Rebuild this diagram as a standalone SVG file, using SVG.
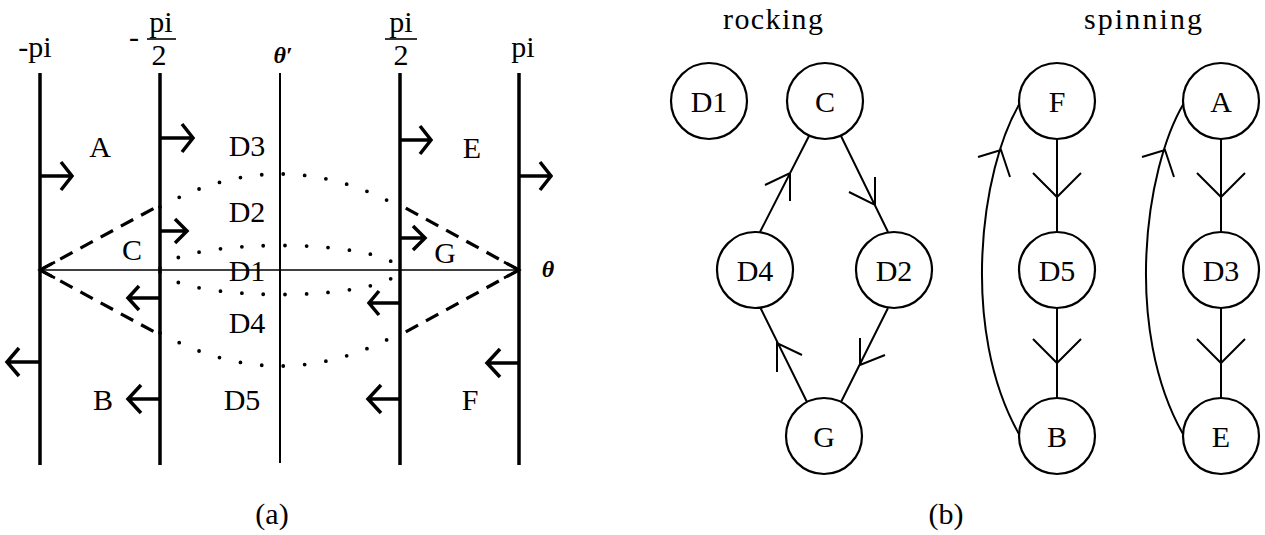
<svg xmlns="http://www.w3.org/2000/svg" width="1265" height="535" viewBox="0 0 1265 535" font-family="'Liberation Serif', 'DejaVu Serif', serif">
<style>
text{font-family:'Liberation Serif','DejaVu Serif',serif;font-size:30px;fill:#000;text-anchor:middle}
.thick{stroke:#000;stroke-width:3.5;fill:none}
.thin{stroke:#000;stroke-width:2;fill:none}
.axis{stroke:#000;stroke-width:1.6;fill:none}
.stub{stroke:#000;stroke-width:3.5;fill:none;stroke-linejoin:miter}
.dash{stroke:#000;stroke-width:3.2;fill:none;stroke-dasharray:14 9}
.dot{stroke:#000;stroke-width:3.8;fill:none;stroke-dasharray:0 21.5;stroke-linecap:round}
.node circle{fill:#fff;stroke:#000;stroke-width:2.2}
.edge{stroke:#000;stroke-width:2;fill:none}
.bar{stroke:#000;stroke-width:1.6}
.th{font-style:italic;font-weight:bold;font-size:24px}
</style>
<g id="panel-a">
  <g id="verticals">
    <line class="thick" x1="40" y1="73" x2="40" y2="465"/>
    <line class="thick" x1="160" y1="73" x2="160" y2="465"/>
    <line class="thin" x1="280" y1="73" x2="280" y2="463"/>
    <line class="thick" x1="400" y1="73" x2="400" y2="465"/>
    <line class="thick" x1="519" y1="73" x2="519" y2="465"/>
  </g>
  <g id="axis">
    <line class="axis" x1="40" y1="270" x2="519" y2="270"/>
    <path class="stub" style="stroke-width:2.6" d="M55,262 L40,270 L55,278"/>
    <path class="stub" style="stroke-width:2.6" d="M504,262 L519,270 L504,278"/>
  </g>
  <g id="dashed">
    <line class="dash" x1="40" y1="270" x2="160" y2="205"/>
    <line class="dash" x1="40" y1="270" x2="160" y2="335"/>
    <line class="dash" x1="519" y1="270" x2="400" y2="205"/>
    <line class="dash" x1="519" y1="270" x2="400" y2="335"/>
  </g>
  <g id="dotted">
    <path class="dot" d="M160,207 Q280,141 400,207"/>
    <path class="dot" d="M160,268 C185,238 375,238 400,268"/>
    <path class="dot" d="M160,272 C185,302 375,302 400,272"/>
    <path class="dot" d="M160,333 Q280,399 400,333"/>
  </g>
  <g id="flow-arrows">
    <path class="stub" d="M40,176 H72 M61,162 L72,176 L61,190"/>
    <path class="stub" d="M160,138 H193 M182,124 L193,138 L182,152"/>
    <path class="stub" d="M400,140 H431 M420,126 L431,140 L420,154"/>
    <path class="stub" d="M519,176 H551 M540,162 L551,176 L540,190"/>
    <path class="stub" d="M160,231 H187 M175,219 L187,231 L175,243"/>
    <path class="stub" d="M400,238 H425 M413,226 L425,238 L413,250"/>
    <path class="stub" d="M160,298 H128 M139,286 L128,298 L139,310"/>
    <path class="stub" d="M400,303 H369 M379,291 L369,303 L379,315"/>
    <path class="stub" d="M40,362 H7 M19,348 L7,362 L19,376"/>
    <path class="stub" d="M519,363 H487 M500,349 L487,363 L500,377"/>
    <path class="stub" d="M160,399 H128 M141,385 L128,399 L141,413"/>
    <path class="stub" d="M400,399 H368 M381,385 L368,399 L381,413"/>
  </g>
  <g id="axis-labels">
    <text x="35" y="57">-pi</text>
    <text x="134" y="47">-</text>
    <text x="161" y="32">pi</text>
    <line class="bar" x1="147" y1="39" x2="176" y2="39"/>
    <text x="159" y="65">2</text>
    <text class="th" x="283" y="63">θ′</text>
    <text x="401" y="32">pi</text>
    <line class="bar" x1="385" y1="39" x2="417" y2="39"/>
    <text x="401" y="65">2</text>
    <text x="523" y="57">pi</text>
    <text class="th" x="548" y="277">θ</text>
  </g>
  <g id="region-labels">
    <text x="100" y="157">A</text>
    <text x="247" y="156">D3</text>
    <text x="472" y="158">E</text>
    <text x="247" y="222">D2</text>
    <text x="132" y="260">C</text>
    <text x="247" y="281">D1</text>
    <text x="445" y="263">G</text>
    <text x="247" y="333">D4</text>
    <text x="103" y="410">B</text>
    <text x="242" y="410">D5</text>
    <text x="470" y="410">F</text>
  </g>
  <text x="272" y="524">(a)</text>
</g>
<g id="panel-b">
  <text x="773" y="29" textLength="100">rocking</text>
  <text x="1143" y="29" textLength="118">spinning</text>
  <g id="connectors">
    <path class="edge" d="M841,136 L888,232 M875,177 L875,205 L849,192"/>
    <path class="edge" d="M760,232 L809,136 M765,185 L790,173 L790,201"/>
    <path class="edge" d="M807,402 L760,307 M777,372 L777,343 L802,355"/>
    <path class="edge" d="M888,308 L841,402 M860,338 L860,365 L885,355"/>
    <path class="edge" d="M1057,139 L1057,232 M1033,173 L1057,197 L1081,173"/>
    <path class="edge" d="M1057,308 L1057,398 M1033,339 L1057,363 L1081,339"/>
    <path class="edge" d="M1221,139 L1221,232 M1197,173 L1221,197 L1245,173"/>
    <path class="edge" d="M1221,308 L1221,398 M1197,339 L1221,363 L1245,339"/>
    <path class="edge" d="M1019,434 C960,330 980,170 1020,103 M978,157 L1001,150 L1010,177"/>
    <path class="edge" d="M1183,434 C1124,330 1144,170 1184,103 M1142,157 L1165,150 L1174,177"/>
  </g>
  <g id="node-D1" class="node"><circle cx="709" cy="101" r="38"/><text x="709" y="112">D1</text></g>
  <g id="node-C" class="node"><circle cx="825" cy="101" r="38"/><text x="825" y="112">C</text></g>
  <g id="node-D4" class="node"><circle cx="755" cy="270" r="38"/><text x="755" y="281">D4</text></g>
  <g id="node-D2" class="node"><circle cx="894" cy="270" r="38"/><text x="894" y="281">D2</text></g>
  <g id="node-G" class="node"><circle cx="824" cy="436" r="38"/><text x="824" y="447">G</text></g>
  <g id="node-F" class="node"><circle cx="1057" cy="101" r="38"/><text x="1057" y="112">F</text></g>
  <g id="node-A" class="node"><circle cx="1221" cy="101" r="38"/><text x="1221" y="112">A</text></g>
  <g id="node-D5" class="node"><circle cx="1057" cy="270" r="38"/><text x="1057" y="281">D5</text></g>
  <g id="node-D3" class="node"><circle cx="1221" cy="270" r="38"/><text x="1221" y="281">D3</text></g>
  <g id="node-B" class="node"><circle cx="1057" cy="436" r="38"/><text x="1057" y="447">B</text></g>
  <g id="node-E" class="node"><circle cx="1221" cy="436" r="38"/><text x="1221" y="447">E</text></g>
  <text x="946" y="524">(b)</text>
</g>
</svg>
